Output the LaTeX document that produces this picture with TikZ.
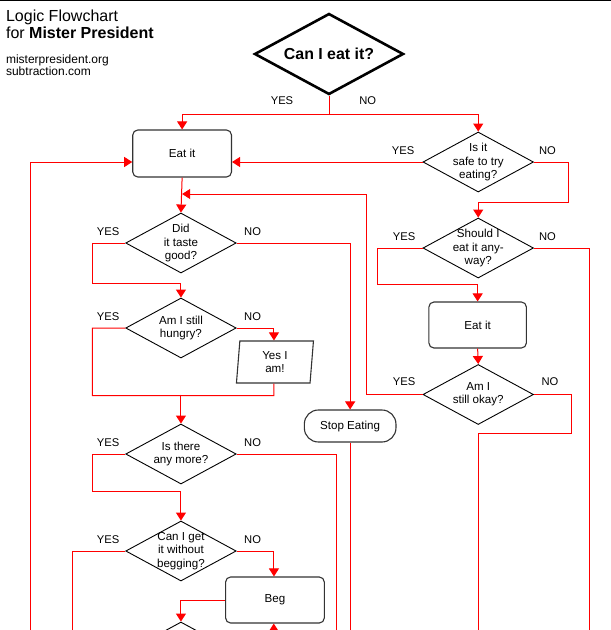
\documentclass[tikz,border=0pt]{standalone}
\usepackage{fontspec}
\setmainfont{Liberation Sans}
\usetikzlibrary{shapes.geometric,arrows.meta,calc}
\begin{document}
\begin{tikzpicture}[x=1.175pt,y=-1pt,
  every node/.style={font=\fontsize{11.6}{13.4}\selectfont, align=center},
  dec/.style={shape=diamond, draw=black, line width=0.9pt, inner sep=0pt, minimum width=110.5pt, minimum height=60pt},
  box/.style={draw=black!80, line width=1.1pt, rounded corners=5pt, minimum width=98.7pt, minimum height=47pt},
  lab/.style={font=\fontsize{11.2}{13}\selectfont},
  link/.style={draw=red, line width=1pt},
  arr/.style={link, -{Triangle[width=10pt,length=8pt]}}]
\useasboundingbox (0,0) rectangle (520,630);
\clip (0,0) rectangle (520,630);
\fill[white] (0,0) rectangle (520,630);
\draw[line width=2pt] (0,0) -- (520,0);
% title
\node[anchor=base west, inner sep=0, font=\fontsize{16}{18}\selectfont] (t1) at (5,21) {Logic Flowchart};
\node[anchor=base west, inner sep=0, font=\fontsize{16}{18}\selectfont] (t2) at (5,38) {for \textbf{Mister President}};
\node[anchor=base west, inner sep=0, font=\fontsize{12}{14}\selectfont] (t3) at (5,63) {misterpresident.org};
\node[anchor=base west, inner sep=0, font=\fontsize{12}{14}\selectfont] (t4) at (5,75) {subtraction.com};
% nodes
\node[dec, line width=2.6pt, minimum width=149pt, minimum height=81pt, label={[font=\fontsize{15.9}{18}\selectfont\bfseries]center:Can I eat it?}] (q1) at (280,54) {};
\node[box] (eat1) at (155,153.5) {Eat it};
\node[dec, label={[align=center]center:Is it\\safe to try\\eating?}] (safe) at (407,162) {};
\node[dec, label={[align=center]center:Did\\it taste\\good?}] (taste) at (154,243) {};
\node[dec, label={[align=center]center:Am I still\\hungry?}] (hungry) at (154,328) {};
\node[trapezium, draw=black!80, line width=1.1pt, trapezium left angle=81, trapezium right angle=99, trapezium stretches body, minimum width=77pt, minimum height=42pt, inner sep=0pt] (yesam) at (234,362) {Yes I\\am!};
\node[draw=black!80, line width=1.1pt, rounded corners=14pt, minimum width=91.6pt, minimum height=32pt] (stop) at (298,426) {Stop Eating};
\node[dec, label={[align=center]center:Is there\\any more?}] (more) at (154,454) {};
\node[dec, label={[align=center]center:Can I get\\it without\\begging?}] (canget) at (154,551) {};
\node[box, minimum height=46pt] (beg) at (234,600) {Beg};
\node[dec] (next) at (154,652) {};
\node[dec, label={[align=center]center:Should I\\eat it any-\\way?}] (should) at (407,248) {};
\node[box, minimum width=97.5pt, minimum height=46pt] (eat2) at (406.5,325) {Eat it};
\node[dec, label={[align=center]center:Am I\\still okay?}] (okay) at (407,394.5) {};
% labels
\node[lab] (l1) at (240,101) {YES};
\node[lab] (l2) at (313,101) {NO};
\node[lab] (l3) at (343,151) {YES};
\node[lab] (l4) at (466,151) {NO};
\node[lab] (l5) at (92,232) {YES};
\node[lab] (l6) at (215,232) {NO};
\node[lab] (l7) at (92,317) {YES};
\node[lab] (l8) at (215,317) {NO};
\node[lab] (l9) at (92,443) {YES};
\node[lab] (l10) at (215,443) {NO};
\node[lab] (l11) at (92,540) {YES};
\node[lab] (l12) at (215,540) {NO};
\node[lab] (l13) at (344,237) {YES};
\node[lab] (l14) at (466,237) {NO};
\node[lab] (l15) at (344,382) {YES};
\node[lab] (l16) at (468,382) {NO};
% free ends
\coordinate (eL) at (26,640);
\coordinate (eMore) at (286,640);
\coordinate (eCan) at (62,640);
\coordinate (eStop) at (298,640);
\coordinate (eShould) at (502,640);
\coordinate (eOkay) at (407,640);
\coordinate (eBeg) at (233,640);
\coordinate (mJoin) at (155,194);
% connectors
\draw[arr] (q1.south) -- ++(0,19) -| (eat1.north);
\draw[arr] (q1.south) -- ++(0,19) -| (safe.north);
\draw[arr] (safe.west) -- (safe.west -| eat1.east);
\draw[arr] (eL) |- (safe.west -| eat1.west);
\draw[arr] (safe.east) -- ++(29,0) -- ++(0,40) -| (should.north);
\draw[arr] (eat1.south) -- (taste.north);
\draw[arr] (okay.west) -- ++(-48,0) |- (mJoin);
\draw[arr] (taste.west) -- ++(-28,0) -- ++(0,40) -| (hungry.north);
\draw[arr] (taste.east) -| (stop.north);
\draw[arr] (hungry.east) -| ([xshift=-1pt]yesam.north);
\draw[link] (hungry.west) -- ++(-28,0) |- ($(yesam.south)+(-1,12)$) -- ([xshift=-1pt]yesam.south);
\draw[arr] ($(more.north)+(0,-29)$) -- (more.north);
\draw[arr] (more.west) -- ++(-28,0) -- ++(0,37) -| (canget.north);
\draw[link] (more.east) -| (eMore);
\draw[link] (canget.west) -| (eCan);
\draw[arr] (canget.east) -| ([xshift=-1pt]beg.north);
\draw[arr] (beg.west) -| (next.north);
\draw[arr] (eBeg) -- (eBeg |- beg.south);
\draw[link] (stop.south) -- (eStop);
\draw[arr] (should.west) -- ++(-38,0) -- ++(0,36) -| (eat2.north);
\draw[link] (should.east) -| (eShould);
\draw[arr] (eat2.south) -- (okay.north);
\draw[link] (okay.east) -- ++(32,0) -- ++(0,39) -| (eOkay);
\end{tikzpicture}
\end{document}
